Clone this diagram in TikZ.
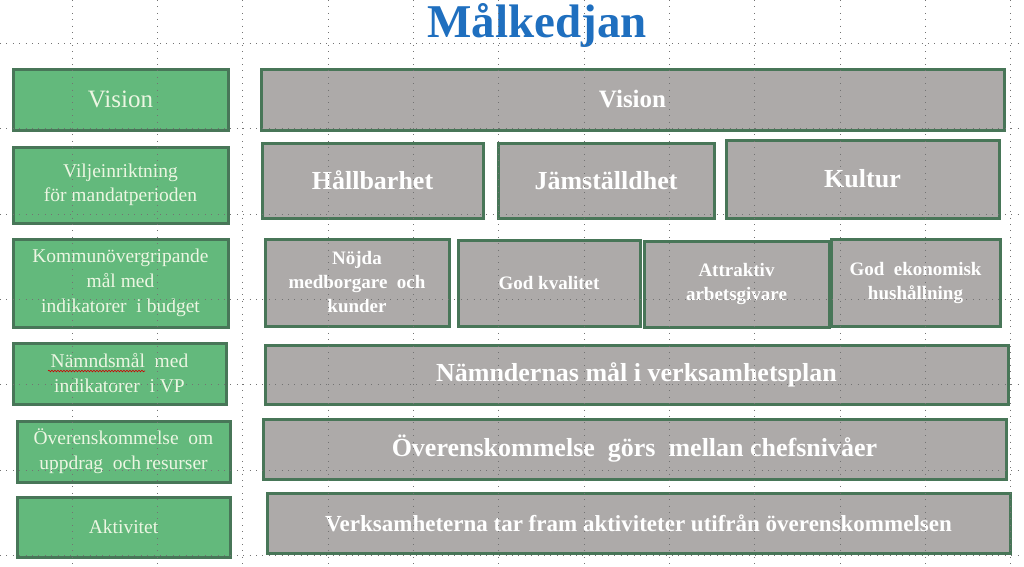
\documentclass[tikz,border=0pt]{standalone}
\usepackage{fontspec}
\setmainfont{Liberation Serif}
\usepackage{tikz}
\usetikzlibrary{decorations.pathmorphing}

\definecolor{boxgreen}{RGB}{99,185,124}
\definecolor{boxgray}{RGB}{173,170,169}
\definecolor{edgegreen}{RGB}{72,118,88}
\definecolor{lighttext}{RGB}{236,246,226}
\definecolor{titleblue}{RGB}{31,111,191}

\begin{document}
\begin{tikzpicture}[x=1pt, y=-1pt,
  greenbox/.style={draw=edgegreen, line width=3pt, fill=boxgreen, text=lighttext, align=center, inner sep=0pt},
  graybox/.style={draw=edgegreen, line width=3pt, fill=boxgray, text=white, align=center, inner sep=0pt, font=\bfseries},
  gridline/.style={black!55, line width=0.9pt, dash pattern=on 0.9pt off 5.5pt}]
  \useasboundingbox (0,0) rectangle (1024,566);

  \node [anchor=base, text=titleblue, font=\fontsize{47}{47}\selectfont\bfseries] (title) at (537,37) {Målkedjan};

  % left column
  \node [greenbox, minimum width=215, minimum height=61, font=\rmfamily\fontsize{25}{30}\selectfont] (gvision) at (120.5,99.5) {Vision};
  \node [greenbox, minimum width=215, minimum height=76, font=\rmfamily\fontsize{19.5}{24}\selectfont] (gvilje) at (120.5,185) {Viljeinriktning\\för mandatperioden};
  \node [greenbox, minimum width=215, minimum height=88, font=\rmfamily\fontsize{19.5}{25}\selectfont] (gkommun) at (120.5,283) {Kommunövergripande\\mål med\\indikatorer\ \ i budget};
  \node [greenbox, minimum width=213, minimum height=61, font=\rmfamily\fontsize{19.5}{25}\selectfont] (gnamnd) at (119.5,373.5) {Nämndsmål\ \ med\\indikatorer\ \ i VP};
  \node [greenbox, minimum width=213, minimum height=61, font=\rmfamily\fontsize{19.5}{25}\selectfont] (gover) at (123.5,451.5) {Överenskommelse\ \ om\\uppdrag\ \ och resurser};
  \node [greenbox, minimum width=213, minimum height=60, font=\rmfamily\fontsize{19.5}{24}\selectfont] (gaktiv) at (123.5,527) {Aktivitet};

  % right side
  \node [graybox, minimum width=743, minimum height=61, font=\fontsize{25}{30}\selectfont\bfseries] (vision) at (632.5,99.5) {Vision};
  \node [graybox, minimum width=221, minimum height=75, font=\fontsize{26}{30}\selectfont\bfseries] (hall) at (372.5,180.5) {Hållbarhet};
  \node [graybox, minimum width=216, minimum height=75, font=\fontsize{26}{30}\selectfont\bfseries] (jam) at (606,180.5) {Jämställdhet};
  \node [graybox, minimum width=273, minimum height=78, font=\fontsize{26}{30}\selectfont\bfseries] (kultur) at (862.5,179) {Kultur};

  \node [graybox, minimum width=184, minimum height=87, font=\fontsize{19}{24}\selectfont\bfseries] (nojda) at (357,282.5) {Nöjda\\medborgare\ \ och\\kunder};
  \node [graybox, minimum width=182, minimum height=86, font=\fontsize{19}{24}\selectfont\bfseries] (kval) at (549,283) {God kvalitet};
  \node [graybox, minimum width=185, minimum height=86, font=\fontsize{19}{24}\selectfont\bfseries] (attr) at (736.5,284) {Attraktiv\\arbetsgivare};
  \node [graybox, minimum width=169, minimum height=87, font=\fontsize{19}{24}\selectfont\bfseries] (ekon) at (915.5,282.5) {God\ \ ekonomisk\\hushållning};

  \node [graybox, minimum width=743, minimum height=59, font=\fontsize{26}{30}\selectfont\bfseries] (namnd) at (636.5,374.5) {Nämndernas mål i verksamhetsplan};
  \node [graybox, minimum width=743, minimum height=60, font=\fontsize{26}{30}\selectfont\bfseries] (over) at (634.5,449) {Överenskommelse\ \ görs\ \ mellan chefsnivåer};
  \node [graybox, minimum width=743, minimum height=60, font=\fontsize{23}{28}\selectfont\bfseries] (verk) at (638.5,523) {Verksamheterna tar fram aktiviteter utifrån överenskommelsen};

  % spelling mark
  \draw [red!80!black, line width=0.6pt, decorate, decoration={snake, amplitude=0.8pt, segment length=3pt}] (48,371) -- (145,371);

  % guides
  \foreach \gx in {0,...,11}
    \draw [gridline] ({72+85.33*\gx},0) -- ({72+85.33*\gx},566);
  \foreach \gy in {43,128,214,299,384,470,555}
    \draw [gridline] (0,\gy) -- (1024,\gy);
\end{tikzpicture}
\end{document}
